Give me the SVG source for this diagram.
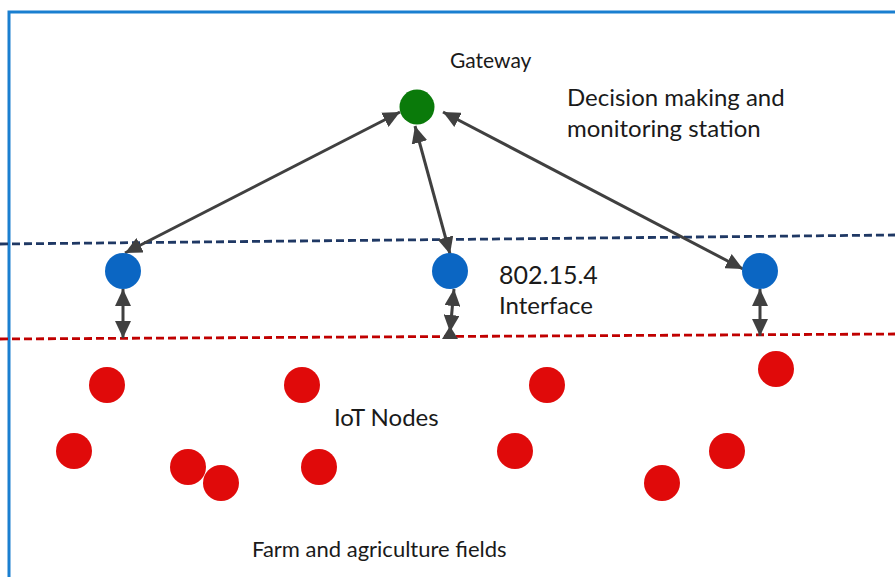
<svg xmlns="http://www.w3.org/2000/svg" width="895" height="577" viewBox="0 0 895 577">
  <defs>
    <marker id="head" viewBox="0 0 17 16" refX="17" refY="8" markerWidth="17" markerHeight="16" markerUnits="userSpaceOnUse" orient="auto-start-reverse">
      <path d="M0,0 L17,8 L0,16 Z" fill="#404040"/>
    </marker>
    <style>
      .lbl { font-family: Lato, "Open Sans", sans-serif; fill: #1a1a1a; }
      .link { stroke: #404040; stroke-width: 3; fill: none; marker-start: url(#head); marker-end: url(#head); }
      .field { fill: #e00a0a; }
      .iface { fill: #0b66c3; }
      .gw { fill: #0a7a0a; }
    </style>
  </defs>

  <rect width="895" height="577" fill="#ffffff"/>

  <!-- frame -->
  <g id="frame" stroke="#1a7fd0" stroke-width="3" fill="none">
    <path d="M9,577 L9,12 L895,12"/>
  </g>

  <!-- layer boundaries -->
  <g id="boundaries" fill="none" stroke-width="2.8" stroke-dasharray="8,4">
    <line x1="0" y1="244" x2="895" y2="235" stroke="#1f3864"/>
    <line x1="0" y1="339" x2="895" y2="334" stroke="#c00000"/>
  </g>

  <!-- connectors -->
  <g id="connectors">
    <line class="link" x1="400" y1="112" x2="125" y2="253"/>
    <line class="link" x1="415" y1="126" x2="450" y2="254"/>
    <line class="link" x1="443" y1="112" x2="743" y2="269"/>
    <line class="link" x1="123" y1="289" x2="123" y2="338"/>
    <line class="link" x1="454" y1="289" x2="450" y2="332"/>
    <line class="link" x1="760" y1="289" x2="760" y2="336"/>
    <path d="M442,339 L458,339 L450,326 Z" fill="#404040"/>
  </g>

  <!-- gateway -->
  <g id="gateway">
    <circle class="gw" cx="417" cy="107" r="17.5"/>
    <text class="lbl" x="450" y="68" font-size="21">Gateway</text>
  </g>

  <g id="station">
    <text class="lbl" x="567" y="106" font-size="24">Decision making and</text>
    <text class="lbl" x="567" y="137" font-size="24">monitoring station</text>
  </g>

  <!-- 802.15.4 interface nodes -->
  <g id="iface-1"><circle class="iface" cx="123" cy="271" r="18"/></g>
  <g id="iface-2"><circle class="iface" cx="450" cy="271" r="18"/></g>
  <g id="iface-3"><circle class="iface" cx="760" cy="271" r="18"/></g>
  <g id="iface-label">
    <text class="lbl" x="499" y="284" font-size="25">802.15.4</text>
    <text class="lbl" x="499" y="314" font-size="24">Interface</text>
  </g>

  <!-- IoT field nodes -->
  <g id="iot-nodes">
    <circle class="field" cx="107" cy="385" r="18"/>
    <circle class="field" cx="74" cy="451" r="18"/>
    <circle class="field" cx="188" cy="467" r="18"/>
    <circle class="field" cx="221" cy="483" r="18"/>
    <circle class="field" cx="302" cy="385" r="18"/>
    <circle class="field" cx="319" cy="467" r="18"/>
    <circle class="field" cx="547" cy="385" r="18"/>
    <circle class="field" cx="515" cy="451" r="18"/>
    <circle class="field" cx="776" cy="369" r="18"/>
    <circle class="field" cx="727" cy="451" r="18"/>
    <circle class="field" cx="662" cy="483" r="18"/>
    <text class="lbl" x="334" y="426" font-size="24">IoT Nodes</text>
  </g>

  <g id="fields-label">
    <text class="lbl" x="252" y="557" font-size="22">Farm and agriculture fields</text>
  </g>
</svg>
